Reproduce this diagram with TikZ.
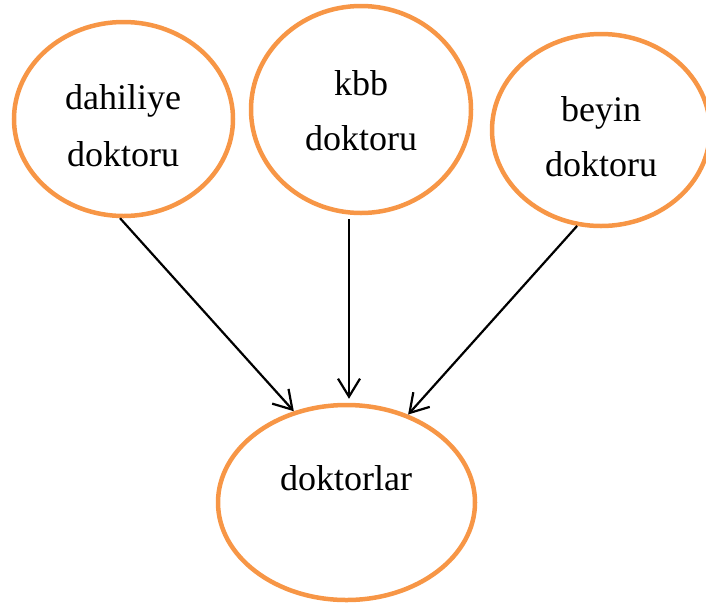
\documentclass[tikz,border=0pt]{standalone}
\usepackage{fontspec}
\setmainfont{Liberation Serif}
\usetikzlibrary{shapes.geometric,arrows.meta}
\definecolor{ringorange}{HTML}{F79646}
\tikzset{
  ring/.style={draw=ringorange, line width=4.5pt, ellipse, inner sep=0pt},
  word/.style={anchor=base, inner sep=0pt, font=\fontsize{36}{42}\selectfont},
  link/.style={line width=2.2pt, -{Straight Barb[length=18pt,width=22pt,line width=2.2pt]}}
}
\begin{document}
\begin{tikzpicture}[x=1pt,y=-1pt]
  \clip (0,0) rectangle (706,606);
  % the four ellipses
  \node[ring, minimum width=219pt, minimum height=194pt] (e1) at (123.5,119) {};
  \node[ring, minimum width=220pt, minimum height=207pt] (e2) at (361,109.5) {};
  \node[ring, minimum width=218pt, minimum height=192pt] (e3) at (601,130) {};
  \node[ring, minimum width=257pt, minimum height=195pt] (e4) at (346.5,502.5) {};
  % labels
  \node[word] (t1a) at (123,109) {dahiliye};
  \node[word] (t1b) at (123,166) {doktoru};
  \node[word] (t2a) at (361,95) {kbb};
  \node[word] (t2b) at (361,150) {doktoru};
  \node[word] (t3a) at (601,121) {beyin};
  \node[word] (t3b) at (601,176) {doktoru};
  \node[word] (t4) at (346,490) {doktorlar};
  % arrows into the lower ellipse
  \draw[link] (e1.268) -- (e4.120);
  \draw[link] ([xshift=2.5pt,yshift=-4pt]e4.north |- e2.south) -- ([xshift=2.5pt,yshift=4pt]e4.north);
  \draw[link] (e3.256) -- (e4.55);
\end{tikzpicture}
\end{document}
